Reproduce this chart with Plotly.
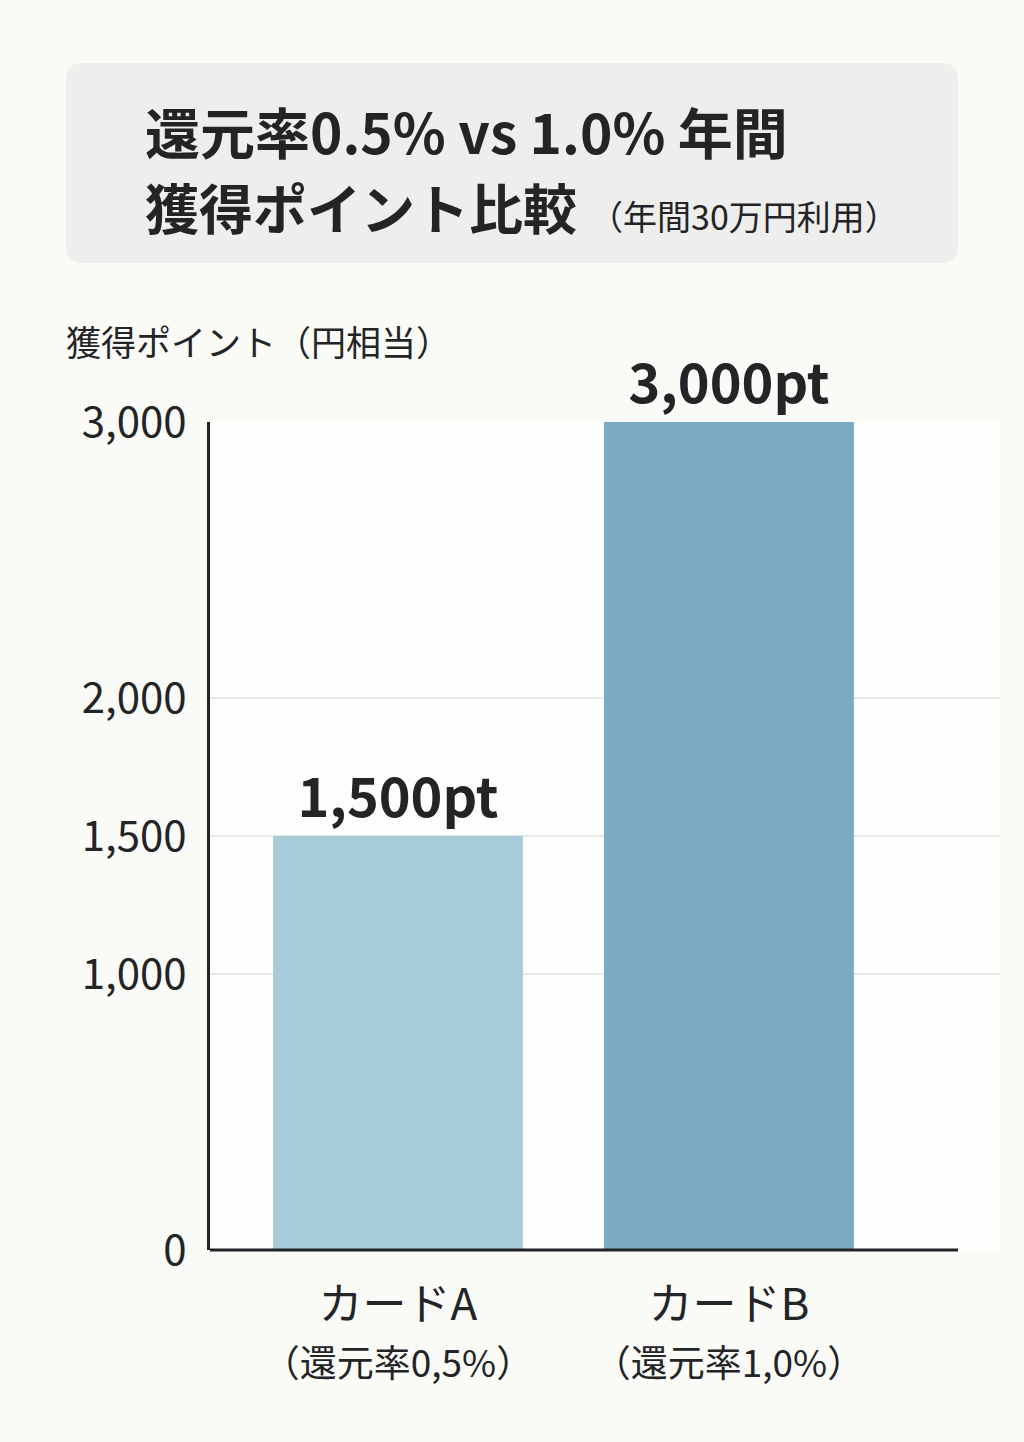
import plotly.graph_objects as go

# Data
cards = ["カードA", "カードB"]
rates = ["還元率0,5%", "還元率1,0%"]
points = [1500, 3000]
y_ticks = [0, 1000, 1500, 2000, 3000]
y_ticktext = ["0", "1,000", "1,500", "2,000", "3,000"]

bar_colors = ["#a8cbd9", "#7ba8c2"]
text_color = "#222426"
font_family = "Noto Sans CJK JP"

W, H = 1024, 1442
L, R, T, B = 210, 24, 422, 192
pw, ph = W - L - R, H - T - B


def px(x):
    return (x - L) / pw


def py(y):
    return (H - B - y) / ph


fig = go.Figure()

fig.add_trace(go.Bar(
    x=cards,
    y=points,
    marker=dict(color=bar_colors, line=dict(width=0)),
    width=0.755,
    texttemplate="<b>%{y:,}pt</b>",
    textposition="outside",
    textfont=dict(size=54, color=text_color, family=font_family),
    cliponaxis=False,
))

# rounded title box
x0, x1, y0, y1, r = 66, 958, 63, 263, 16
path = (
    f"M {px(x0 + r)} {py(y0)} L {px(x1 - r)} {py(y0)} "
    f"Q {px(x1)} {py(y0)} {px(x1)} {py(y0 + r)} "
    f"L {px(x1)} {py(y1 - r)} Q {px(x1)} {py(y1)} {px(x1 - r)} {py(y1)} "
    f"L {px(x0 + r)} {py(y1)} Q {px(x0)} {py(y1)} {px(x0)} {py(y1 - r)} "
    f"L {px(x0)} {py(y0 + r)} Q {px(x0)} {py(y0)} {px(x0 + r)} {py(y0)} Z"
)
fig.add_shape(type="path", path=path, xref="paper", yref="paper",
              fillcolor="#eeeeed", line=dict(width=0), layer="below")

# x axis line (stops short of gridlines)
fig.add_shape(type="line", xref="paper", yref="paper",
              x0=0, x1=px(958), y0=0, y1=0,
              line=dict(color=text_color, width=3))

fig.add_annotation(
    xref="paper", yref="paper", x=px(143), y=py(130),
    xanchor="left", yanchor="middle", showarrow=False,
    text="<b>還元率0.5% vs 1.0% 年間</b>",
    font=dict(size=55, color=text_color, family=font_family),
)
fig.add_annotation(
    xref="paper", yref="paper", x=px(143), y=py(207),
    xanchor="left", yanchor="middle", showarrow=False,
    text="<b>獲得ポイント比較</b> <span style='font-size:34px'>（年間30万円利用）</span>",
    font=dict(size=54, color=text_color, family=font_family),
)
fig.add_annotation(
    xref="paper", yref="paper", x=px(64), y=py(340),
    xanchor="left", yanchor="middle", showarrow=False,
    text="獲得ポイント（円相当）",
    font=dict(size=35, color=text_color, family=font_family),
)

fig.update_layout(
    width=W, height=H,
    margin=dict(l=L, r=R, t=T, b=B),
    paper_bgcolor="#fafaf7",
    plot_bgcolor="#fdfdfc",
    showlegend=False,
    font=dict(family=font_family, color=text_color),
    xaxis=dict(
        range=[-0.568, 1.819],
        tickvals=cards,
        ticktext=[f"{c}<br><span style='font-size:37px'>（{r}）</span>" for c, r in zip(cards, rates)],
        tickfont=dict(size=44, color=text_color),
        showline=False, showgrid=False, zeroline=False, ticks="",
        ticklabelstandoff=25,
    ),
    yaxis=dict(
        range=[0, 3000],
        tickvals=y_ticks,
        ticktext=y_ticktext,
        tickfont=dict(size=42, color=text_color),
        showline=True, linecolor=text_color, linewidth=3,
        showgrid=True, gridcolor="#e8e8e6", gridwidth=2,
        zeroline=False, ticks="",
        ticklabelstandoff=12,
    ),
)

fig.write_html("out.html", config={"displayModeBar": False},
               post_script="document.body.style.margin='0';")
